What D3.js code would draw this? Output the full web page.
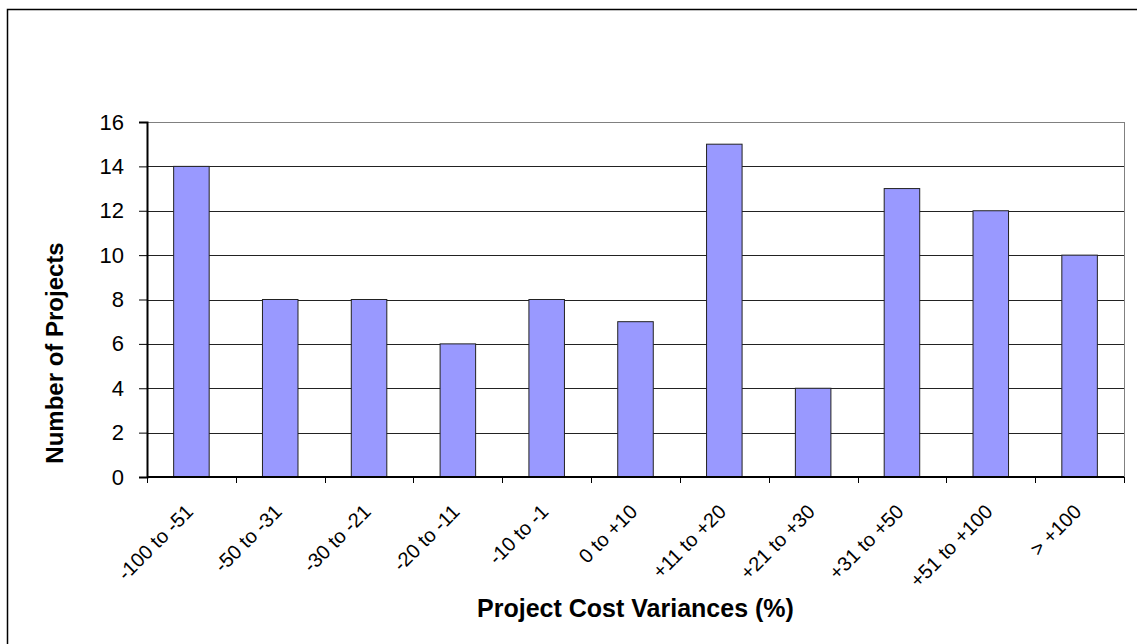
<!DOCTYPE html>
<html>
<head>
<meta charset="utf-8">
<script src="https://cdn.jsdelivr.net/npm/d3@7"></script>
<style>
  body { margin: 0; background: #fff; }
  svg { font-family: Arial, "Liberation Sans", sans-serif; }
</style>
</head>
<body>
<svg id="chart"></svg>
<script>
const categories = ["-100 to -51", "-50 to -31", "-30 to -21", "-20 to -11", "-10 to -1",
  "0 to +10", "+11 to +20", "+21 to +30", "+31 to +50", "+51 to +100", "> +100"];
const projectCounts = [14, 8, 8, 6, 8, 7, 15, 4, 13, 12, 10];
const yTicks = [0, 2, 4, 6, 8, 10, 12, 14, 16];

const width = 1137, height = 644;
const margin = { top: 122, right: 13, bottom: 167, left: 147 };
const innerW = width - margin.left - margin.right;
const innerH = height - margin.top - margin.bottom;

const svg = d3.select("#chart").attr("width", width).attr("height", height);

// outer frame
svg.append("rect")
  .attr("x", 7.5).attr("y", 9.5)
  .attr("width", width).attr("height", height)
  .attr("fill", "none").attr("stroke", "#000").attr("stroke-width", 1.5);

const chart = svg.append("g").attr("transform", `translate(${margin.left},${margin.top})`);

const x = d3.scaleBand().domain(categories).range([0, innerW]).paddingInner(0).paddingOuter(0);
const y = d3.scaleLinear().domain([0, 16]).range([innerH, 0]);

// gridlines
chart.append("g")
  .selectAll("line")
  .data(yTicks.filter(d => d > 0))
  .join("line")
  .attr("x1", 0).attr("x2", innerW)
  .attr("y1", d => Math.round(y(d)) + 0.5).attr("y2", d => Math.round(y(d)) + 0.5)
  .attr("stroke", d => d === 16 ? "#808080" : "#222")
  .attr("stroke-width", 1);

// right border of plot area
chart.append("line")
  .attr("x1", innerW + 0.5).attr("x2", innerW + 0.5)
  .attr("y1", 0).attr("y2", innerH)
  .attr("stroke", "#808080");

// bars
const barW = x.bandwidth() * 0.4;
chart.append("g")
  .selectAll("rect")
  .data(projectCounts)
  .join("rect")
  .attr("x", (d, i) => x(categories[i]) + (x.bandwidth() - barW) / 2)
  .attr("y", d => y(d))
  .attr("width", barW)
  .attr("height", d => innerH - y(d))
  .attr("fill", "#9999ff")
  .attr("stroke", "#222")
  .attr("stroke-width", 1);

// y axis
const yAxis = d3.axisLeft(y).tickValues(yTicks).tickSize(8).tickPadding(15);
const yG = chart.append("g").call(yAxis);
yG.select(".domain").attr("stroke", "#000").attr("stroke-width", 2);
yG.selectAll(".tick line").attr("stroke", "#000");
yG.selectAll(".tick text").attr("font-size", 22).attr("fill", "#000")
  .attr("font-family", "Arial, 'Liberation Sans', sans-serif");

// x axis
const xG = chart.append("g").attr("transform", `translate(0,${innerH})`);
xG.append("line")
  .attr("x1", 0).attr("x2", innerW).attr("y1", 0).attr("y2", 0)
  .attr("stroke", "#000").attr("stroke-width", 2);
xG.selectAll(".xtick")
  .data(categories.concat(["end"]))
  .join("line")
  .attr("x1", (d, i) => Math.round(i * x.step()) + 0.5)
  .attr("x2", (d, i) => Math.round(i * x.step()) + 0.5)
  .attr("y1", 0).attr("y2", 6)
  .attr("stroke", "#000");
xG.selectAll(".xlabel")
  .data(categories)
  .join("text")
  .attr("transform", d => `translate(${x(d) + x.bandwidth() / 2 + 3},${36}) rotate(-45)`)
  .attr("text-anchor", "end")
  .attr("font-size", 20)
  .attr("fill", "#000")
  .text(d => d);

// axis titles
svg.append("text")
  .attr("x", margin.left + innerW / 2)
  .attr("y", 617)
  .attr("text-anchor", "middle")
  .attr("font-size", 25)
  .attr("font-weight", "bold")
  .text("Project Cost Variances (%)");

svg.append("text")
  .attr("transform", `translate(63,353) rotate(-90)`)
  .attr("text-anchor", "middle")
  .attr("font-size", 24)
  .attr("font-weight", "bold")
  .text("Number of Projects");
</script>
</body>
</html>
